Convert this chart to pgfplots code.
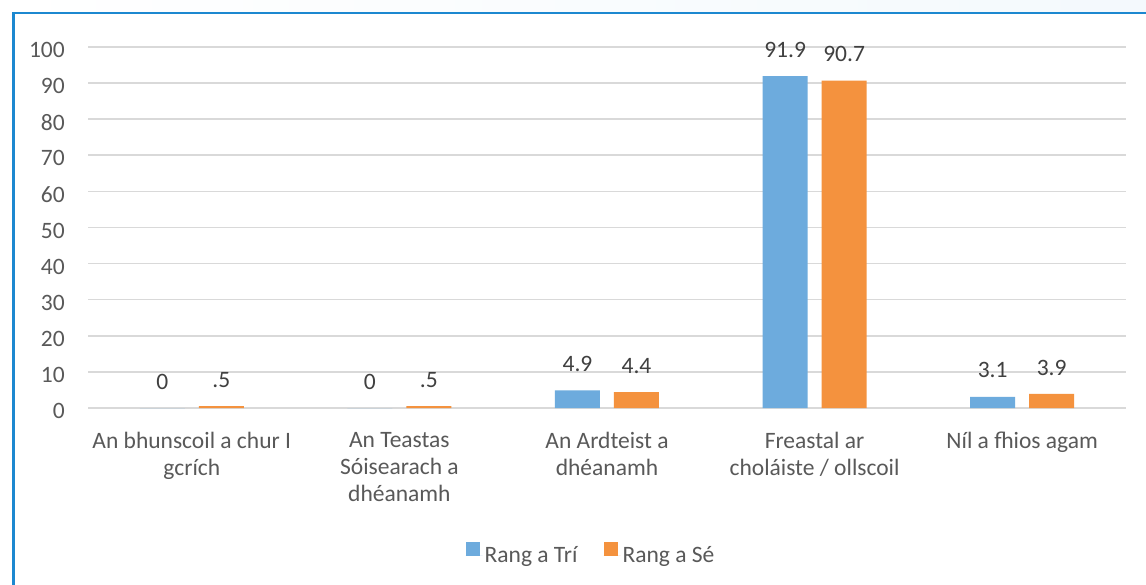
\documentclass[border=0pt]{standalone}
\usepackage{pgfplots}
\pgfplotsset{compat=1.18}
\usepackage{pgfplotstable}
\usepackage{fontspec}
\setmainfont{Carlito}
\definecolor{barblue}{HTML}{6DABDD}
\definecolor{barorange}{HTML}{F4923E}
\definecolor{framebl}{HTML}{1C88D0}
\definecolor{txt}{HTML}{595959}
\definecolor{lbl}{HTML}{404040}
\definecolor{gridc}{HTML}{D9D9D9}
\pgfplotstableread{
x b bl o ol
0 0 0 0.5 .5
1 0 0 0.5 .5
2 4.9 4.9 4.4 4.4
3 91.9 91.9 90.7 90.7
4 3.1 3.1 3.9 3.9
}\datatab
\begin{document}
\begin{tikzpicture}[x=1pt,y=1pt]
\useasboundingbox (0,0) rectangle (1146,584);
\fill[white] (0,0) rectangle (1146,584);
\shade[left color=white, right color=framebl!5] (0,571) rectangle (1146,584);
\draw[framebl, line width=2.8pt] (13.2,-5) -- (13.2,571) -- (1150,571);
\begin{axis}[
  at={(88pt,176pt)}, anchor=south west,
  scale only axis, width=1038pt, height=361pt,
  ybar=14pt, bar width=45pt,
  xmin=-0.5, xmax=4.5, ymin=0, ymax=100,
  xtick={0,1,2,3,4},
  xticklabels={{An bhunscoil a chur I\\gcrích},{An Teastas\\Sóisearach a\\dhéanamh},{An Ardteist a\\dhéanamh},{Freastal ar\\choláiste / ollscoil},{Níl a fhios agam}},
  ytick={0,10,...,100},
  ymajorgrids, major grid style={gridc, line width=1.6pt},
  axis line style={draw=none},
  major tick length=0pt,
  /pgf/number format/assume math mode=true,
  yticklabel style={anchor=east, inner sep=0pt, xshift=-23pt, yshift=-3pt, font=\fontsize{23.5}{27}\selectfont, text=txt},
  xticklabel style={anchor=north, align=center, inner sep=0pt, yshift=-24pt, font=\fontsize{23.5}{27}\selectfont, text=txt},
  nodes near coords,
  point meta=explicit symbolic,
  nodes near coords style={anchor=south, inner sep=0pt, yshift=18.5pt, font=\fontsize{23.5}{27}\selectfont, text=lbl},
  legend image code/.code={\fill[#1] (0pt,-1pt) rectangle (14pt,13pt); \path (0pt,0pt) -- (17pt,0pt);},
  legend style={at={(0.4846,-0.4044)}, anchor=center, draw=none, fill=none,
    legend columns=2, font=\fontsize{23.5}{27}\selectfont, text=txt,
    /tikz/every even column/.append style={column sep=24pt},
    inner sep=0pt},
]
\addplot[fill=barblue, draw=none] table[x=x, y=b, meta=bl] {\datatab};
\addplot[fill=barorange, draw=none] table[x=x, y=o, meta=ol] {\datatab};
\legend{Rang a Trí, Rang a Sé}
\end{axis}
\end{tikzpicture}
\end{document}
